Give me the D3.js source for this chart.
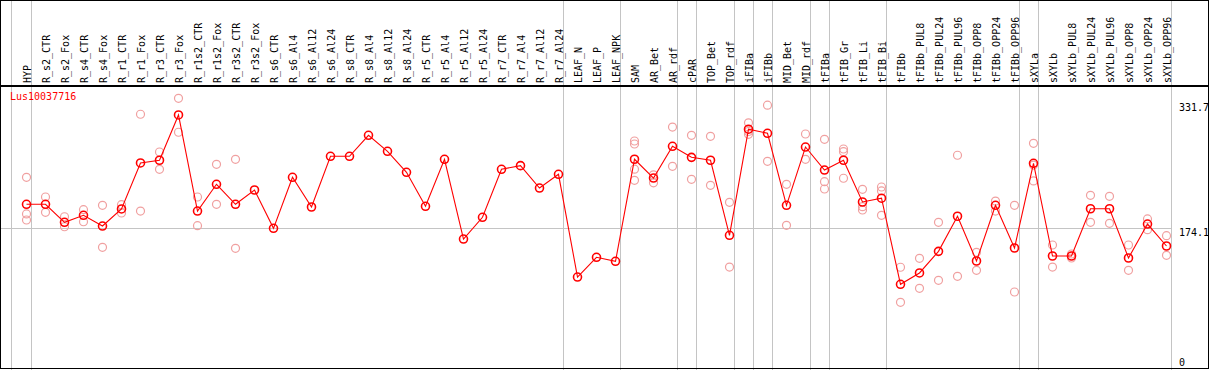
<!DOCTYPE html>
<html>
<head>
<meta charset="utf-8">
<script src="https://cdn.jsdelivr.net/npm/d3@7"></script>
<style>
  html, body { margin: 0; padding: 0; background: #fff; }
  svg { display: block; }
  text { font-family: "DejaVu Sans Mono", "Liberation Mono", monospace; font-size: 10px; }
</style>
</head>
<body>
<div id="chart"></div>
<script>
const geneName = "Lus10037716";

const categories = [
  "HYP","R_s2_CTR","R_s2_Fox","R_s4_CTR","R_s4_Fox","R_r1_CTR","R_r1_Fox","R_r3_CTR","R_r3_Fox",
  "R_r1s2_CTR","R_r1s2_Fox","R_r3s2_CTR","R_r3s2_Fox","R_s6_CTR","R_s6_Al4","R_s6_Al12","R_s6_Al24",
  "R_s8_CTR","R_s8_Al4","R_s8_Al12","R_s8_Al24","R_r5_CTR","R_r5_Al4","R_r5_Al12","R_r5_Al24",
  "R_r7_CTR","R_r7_Al4","R_r7_Al12","R_r7_Al24","LEAF_N","LEAF_P","LEAF_NPK","SAM","AR_Bet","AR_rdf",
  "cPAR","TOP_Bet","TOP_rdf","iFIBa","iFIBb","MID_Bet","MID_rdf","tFIBa","tFIB_Gr","tFIB_Li","tFIB_Bi",
  "tFIBb","tFIBb_PUL8","tFIBb_PUL24","tFIBb_PUL96","tFIBb_OPP8","tFIBb_OPP24","tFIBb_OPP96",
  "sXYLa","sXYLb","sXYLb_PUL8","sXYLb_PUL24","sXYLb_PUL96","sXYLb_OPP8","sXYLb_OPP24","sXYLb_OPP96"
];

// mean expression per sample (the connected line)
const meanValues = [
  204.0, 204.0, 181.3, 190.1, 176.6, 198.1, 256.1, 259.5, 316.6,
  195.5, 229.2, 204.0, 222.0, 173.7, 238.0, 200.6, 264.5,
  264.5, 291.0, 270.8, 244.3, 201.5, 260.7, 160.2, 187.6,
  248.1, 252.7, 224.5, 241.8, 112.3, 137.2, 132.1, 260.8, 237.1, 277.1,
  263.2, 259.5, 164.9, 298.7, 293.5, 202.7, 276.2, 247.2, 259.5, 206.9, 211.7,
  103.1, 117.4, 144.7, 188.9, 132.5, 202.7, 148.9,
  255.7, 138.8, 138.8, 198.4, 198.4, 136.3, 179.1, 151.4
];

// individual replicate values (faded circles)
const replicateValues = [
  [238.0, 191.8, 184.2], [213.2, 193.9], [188.3, 175.7], [197.2, 182.0], [202.7, 149.8],
  [203.5, 193.0], [317.5, 195.5], [269.9, 248.1], [337.6, 294.8],
  [213.2, 177.0], [254.4, 204.0], [260.7, 148.5], [], [], [], [], [],
  [], [], [], [], [], [], [], [],
  [], [], [], [], [], [], [], [283.8, 280.0, 248.3, 234.2], [241.2, 231.1], [301.4, 251.9],
  [291.0, 235.5], [289.7, 227.9], [206.5, 124.9], [306.7, 295.8, 292.2], [328.9, 258.2],
  [229.2, 177.5], [292.6, 260.7], [285.9, 232.5, 223.3], [273.7, 270.3, 236.8],
  [222.9, 201.0, 196.8], [225.8, 220.8, 190.1],
  [124.6, 80.4], [135.9, 98.1], [181.3, 108.2], [265.8, 113.2], [143.5, 120.8], [208.1, 195.5], [202.7, 93.4],
  [280.9, 253.5, 233.4], [152.7, 124.9], [141.3, 136.3], [215.3, 181.3], [214.1, 180.0],
  [152.7, 120.8], [185.5, 172.0], [164.4, 139.7]
];

// sample groups: separator lines follow these samples
const groupEnds = ["HYP","R_r7_Al24","LEAF_NPK","AR_rdf","cPAR","TOP_rdf","iFIBa","iFIBb",
  "MID_rdf","tFIBa","tFIB_Bi","tFIBb_OPP96","sXYLa","sXYLb_OPP96"];

const yTickValues = [0, 174.1, 331.7];
const yGridValues = [174.1];

const W = 1209, H = 370;
const headerBottom = 86;

const svg = d3.select("#chart").append("svg")
  .attr("width", W).attr("height", H);

const x = d3.scalePoint().domain(categories).range([26.5, 1166.5]).padding(0);
const y = d3.scaleLinear().domain([0, 331.7]).range([366.1, 103]);

// vertical group separators
const sepX = [x(categories[0]) - 15].concat(groupEnds.map(c => x(c) + 5));
svg.append("g").selectAll("line").data(sepX).join("line")
  .attr("x1", d => d).attr("x2", d => d)
  .attr("y1", 0).attr("y2", H)
  .attr("stroke", "#c4c4c4").attr("stroke-width", 1);

// horizontal gridline
svg.append("g").selectAll("line").data(yGridValues).join("line")
  .attr("x1", 0).attr("x2", x(categories[categories.length - 1]) + 5)
  .attr("y1", d => Math.round(y(d)) + 0.5).attr("y2", d => Math.round(y(d)) + 0.5)
  .attr("stroke", "#c4c4c4").attr("stroke-width", 1);

// header line
svg.append("line")
  .attr("x1", 0).attr("x2", W).attr("y1", headerBottom).attr("y2", headerBottom)
  .attr("stroke", "#000").attr("stroke-width", 2);

// outer border
svg.append("rect")
  .attr("x", 0.5).attr("y", 0.5).attr("width", 1208).attr("height", 368)
  .attr("fill", "none").attr("stroke", "#000").attr("stroke-width", 1);

// category labels (rotated)
svg.append("g").selectAll("text").data(categories).join("text")
  .attr("transform", d => `translate(${x(d) + 4},83) rotate(-90)`)
  .attr("text-anchor", "start")
  .attr("fill", "#000")
  .text(d => d);

// y tick labels on the right
svg.append("g").selectAll("text").data(yTickValues).join("text")
  .attr("x", 1179)
  .attr("y", d => Math.min(y(d) + 8, 366))
  .attr("fill", "#000")
  .text(d => d);

// gene label
svg.append("text")
  .attr("x", 10).attr("y", 100)
  .attr("fill", "#ff0000")
  .text(geneName);

// replicate circles
const reps = [];
categories.forEach((c, i) => replicateValues[i].forEach(v => reps.push({c, v})));
svg.append("g").selectAll("circle").data(reps).join("circle")
  .attr("cx", d => x(d.c)).attr("cy", d => y(d.v)).attr("r", 4)
  .attr("fill", "none").attr("stroke", "#f0a0a0").attr("stroke-width", 1.2);

// mean line
const line = d3.line().x((d, i) => x(categories[i])).y(d => y(d));
svg.append("path").datum(meanValues)
  .attr("d", line).attr("fill", "none")
  .attr("stroke", "#ff0000").attr("stroke-width", 1.1);

// mean circles
svg.append("g").selectAll("circle").data(meanValues).join("circle")
  .attr("cx", (d, i) => x(categories[i])).attr("cy", d => y(d)).attr("r", 4)
  .attr("fill", "none").attr("stroke", "#ff0000").attr("stroke-width", 1.6);
</script>
</body>
</html>
